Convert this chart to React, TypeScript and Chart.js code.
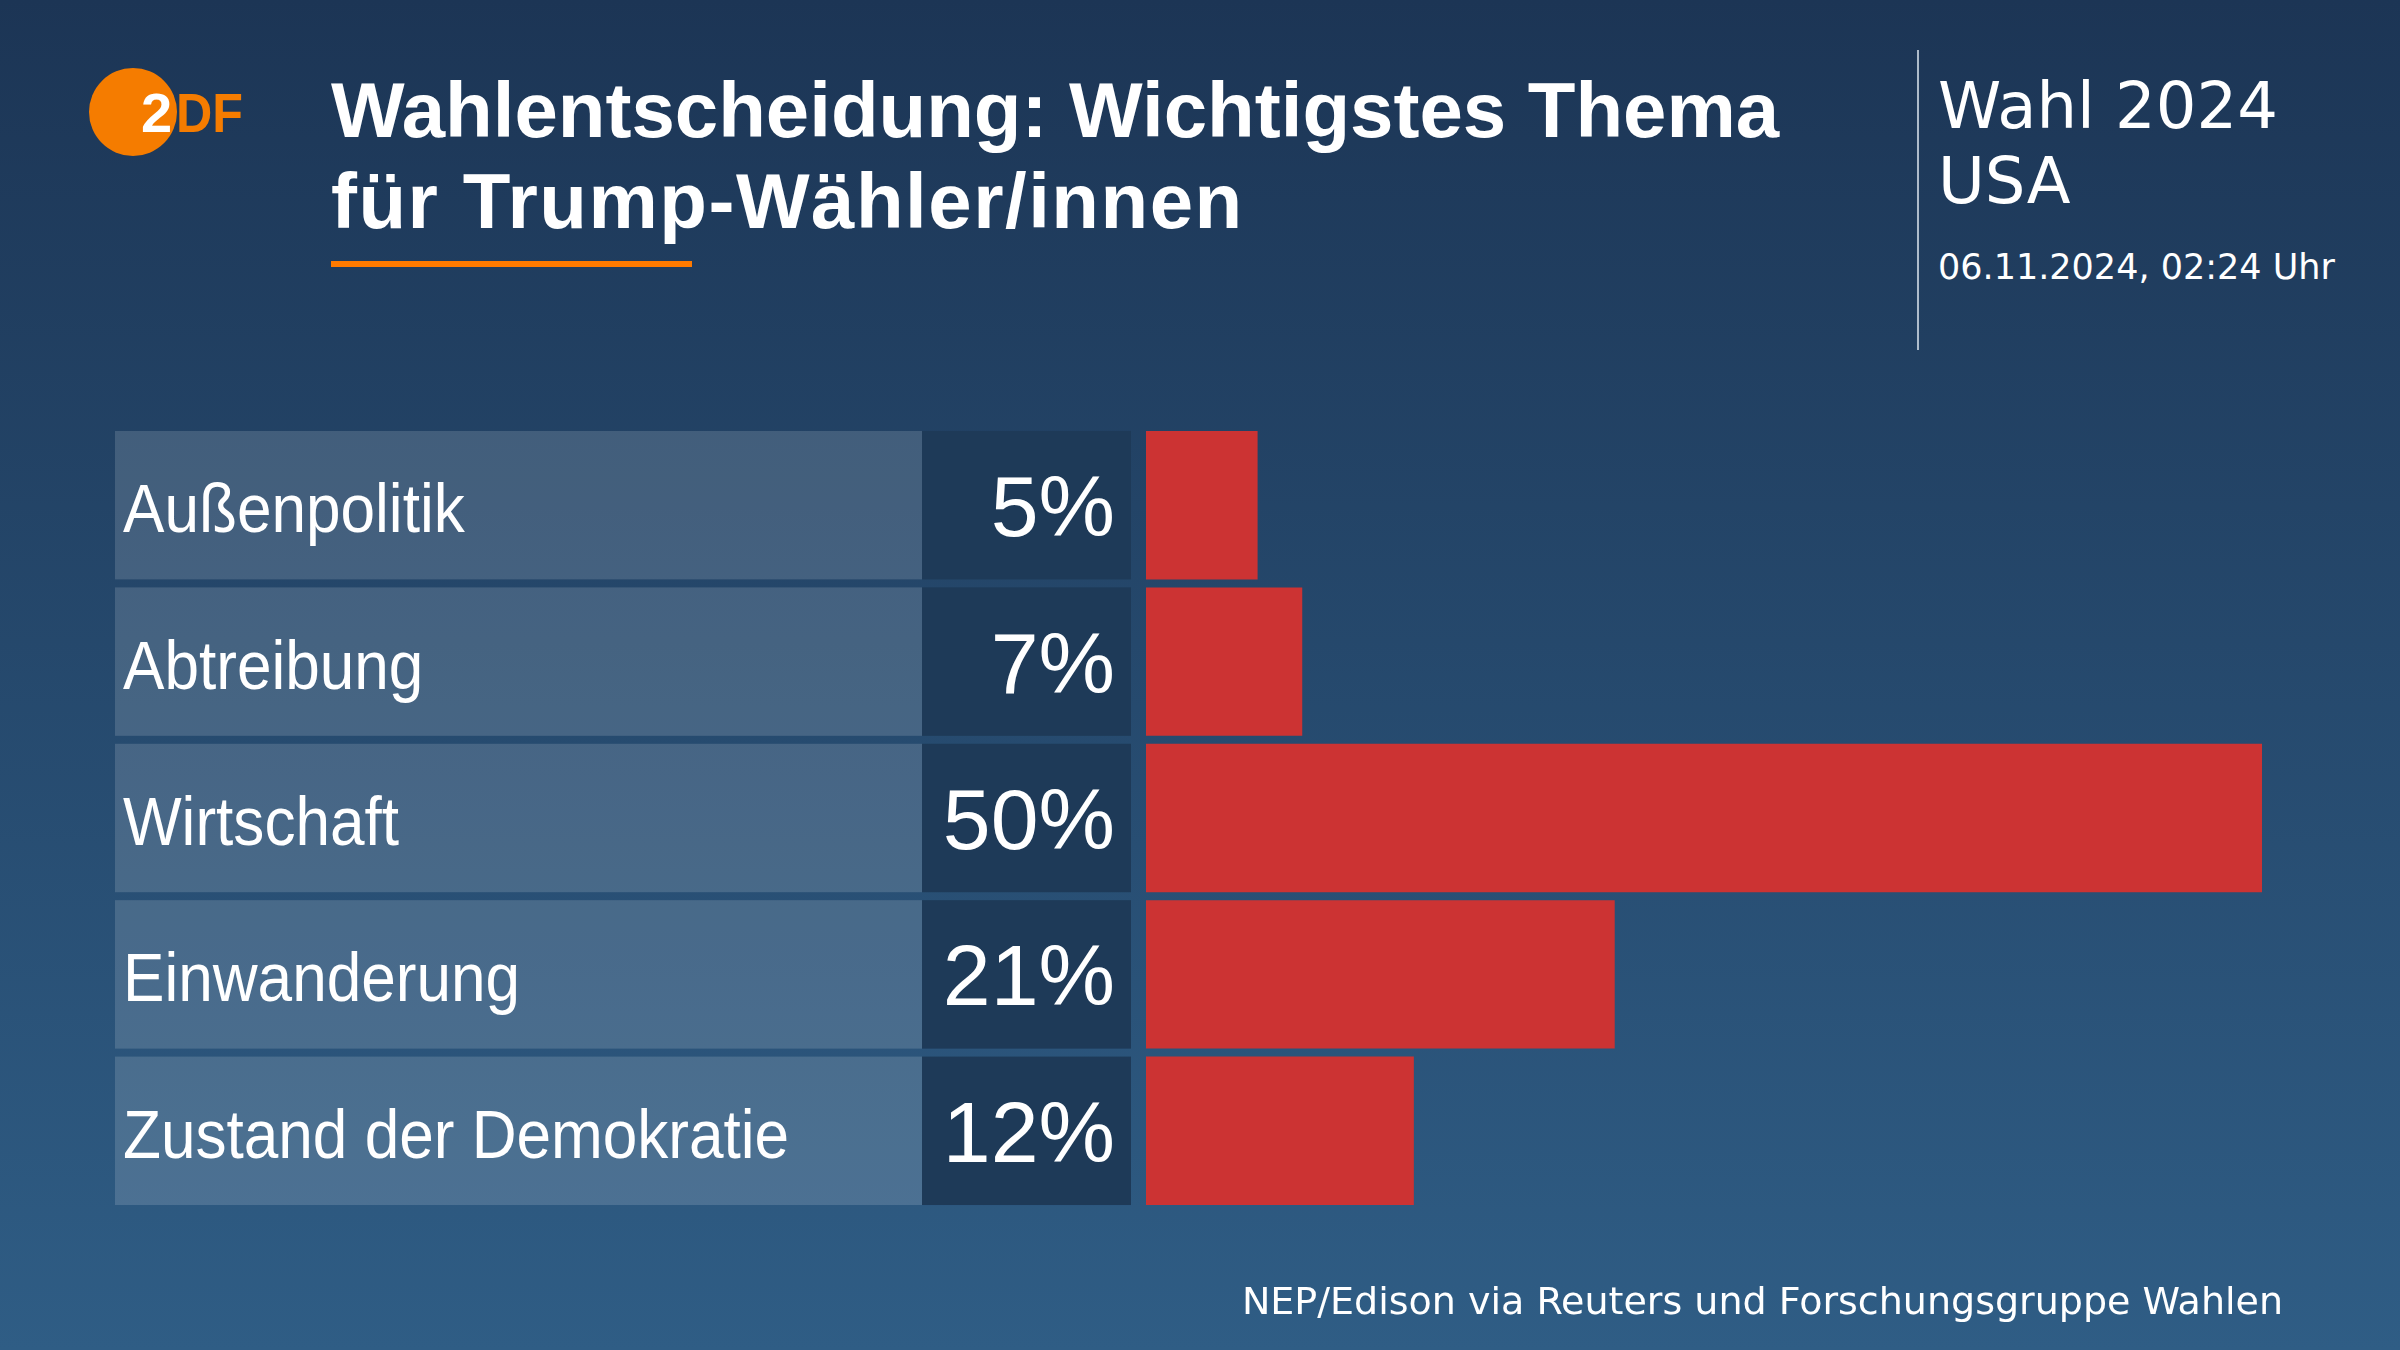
import React, { useEffect, useRef } from "react";
import { Chart, registerables } from "chart.js";

Chart.register(...registerables);

const categories = ["Außenpolitik", "Abtreibung", "Wirtschaft", "Einwanderung", "Zustand der Demokratie"];
const values = [5, 7, 50, 21, 12];
const axisMin = 0;
const axisMax = 50;
const titleLines = ["Wahlentscheidung: Wichtigstes Thema", "für Trump-Wähler/innen"];
const sideTitle = ["Wahl 2024", "USA"];
const sideDate = "06.11.2024, 02:24 Uhr";
const sourceText = "NEP/Edison via Reuters und Forschungsgruppe Wahlen";

const rowPlugin = {
  id: "rowBoxes",
  beforeDatasetsDraw(chart: any) {
    const meta = chart.getDatasetMeta(0);
    const ctx = chart.ctx;
    meta.data.forEach((el: any, i: number) => {
      const { y, height } = el.getProps(["y", "height"], true);
      const top = y - height / 2;
      ctx.save();
      ctx.fillStyle = "rgba(255,255,255,0.15)";
      ctx.fillRect(115, top, 807, height);
      ctx.fillStyle = "#1e3a58";
      ctx.fillRect(922, top, 209, height);
      ctx.fillStyle = "#ffffff";
      ctx.textBaseline = "alphabetic";
      ctx.textAlign = "right";
      ctx.font = '86px "Liberation Sans", Arial, sans-serif';
      ctx.fillText(values[i] + "%", 1115, y + 31);
      ctx.textAlign = "left";
      ctx.font = '69px "Liberation Sans", Arial, sans-serif';
      ctx.translate(123, y + 27);
      ctx.scale(0.9, 1);
      ctx.fillText(String(chart.data.labels[i]), 0, 0);
      ctx.restore();
    });
  },
};

function ChartCanvas() {
  const ref = useRef<HTMLCanvasElement>(null);
  useEffect(() => {
    if (!ref.current) return;
    const chart = new Chart(ref.current, {
      type: "bar",
      data: {
        labels: categories,
        datasets: [
          {
            data: values,
            backgroundColor: "#cc3333",
            borderWidth: 0,
            barPercentage: 0.949,
            categoryPercentage: 1,
          },
        ],
      },
      options: {
        indexAxis: "y",
        responsive: false,
        devicePixelRatio: 1,
        animation: false,
        layout: { padding: { left: 1146, right: 138, top: 427, bottom: 141 } },
        scales: {
          x: { display: false, min: axisMin, max: axisMax },
          y: { display: false },
        },
        plugins: { legend: { display: false }, tooltip: { enabled: false } },
      },
      plugins: [rowPlugin],
    } as any);
    return () => chart.destroy();
  }, []);
  return (
    <canvas
      ref={ref}
      width={2400}
      height={1350}
      style={{ position: "absolute", left: 0, top: 0, width: 2400, height: 1350 }}
    />
  );
}

const txt = (
  text: string,
  left: number,
  baseline: number,
  size: number,
  family: string,
  weight: number | string = "normal",
  extra: React.CSSProperties = {}
) => (
  <div
    style={{
      position: "absolute",
      left,
      top: baseline - 0.846 * size,
      fontSize: size,
      lineHeight: `${size}px`,
      fontFamily: family,
      fontWeight: weight as any,
      color: "#ffffff",
      whiteSpace: "nowrap",
      ...extra,
    }}
  >
    {text}
  </div>
);

export default function App() {
  const lib = '"Liberation Sans", Arial, sans-serif';
  const dv = '"DejaVu Sans", sans-serif';
  return (
    <div
      style={{
        position: "absolute",
        left: 0,
        top: 0,
        width: 2400,
        height: 1350,
        overflow: "hidden",
        background: "linear-gradient(180deg, #1c3555 0%, #2f5d85 100%)",
      }}
    >
      <svg width={260} height={200} style={{ position: "absolute", left: 0, top: 0 }}>
        <circle cx={133} cy={112} r={44} fill="#f57c00" />
        <text x={141} y={132} fontSize={56} fontWeight="bold" fill="#ffffff" fontFamily={lib}>
          2
        </text>
        <text x={176} y={132} fontSize={56} fontWeight="bold" fill="#f57c00" fontFamily={lib} textLength={67} lengthAdjust="spacingAndGlyphs">
          DF
        </text>
      </svg>
      {txt(titleLines[0], 331, 137, 78, lib, "bold")}
      {txt(titleLines[1], 331, 228, 78, lib, "bold", { letterSpacing: "1.5px" })}
      <div style={{ position: "absolute", left: 331, top: 261, width: 361, height: 6, background: "#ff7a00" }} />
      <div style={{ position: "absolute", left: 1917, top: 50, width: 2, height: 300, background: "rgba(210,220,230,0.8)" }} />
      {txt(sideTitle[0], 1938, 128, 64, dv)}
      {txt(sideTitle[1], 1938, 203, 64, dv)}
      {txt(sideDate, 1938, 280, 35, dv)}
      <ChartCanvas />
      <div
        style={{
          position: "absolute",
          right: 117,
          top: 1314 - 0.846 * 38,
          fontSize: 38,
          lineHeight: "38px",
          fontFamily: dv,
          color: "#ffffff",
          whiteSpace: "nowrap",
          textAlign: "right",
        }}
      >
        {sourceText}
      </div>
    </div>
  );
}
